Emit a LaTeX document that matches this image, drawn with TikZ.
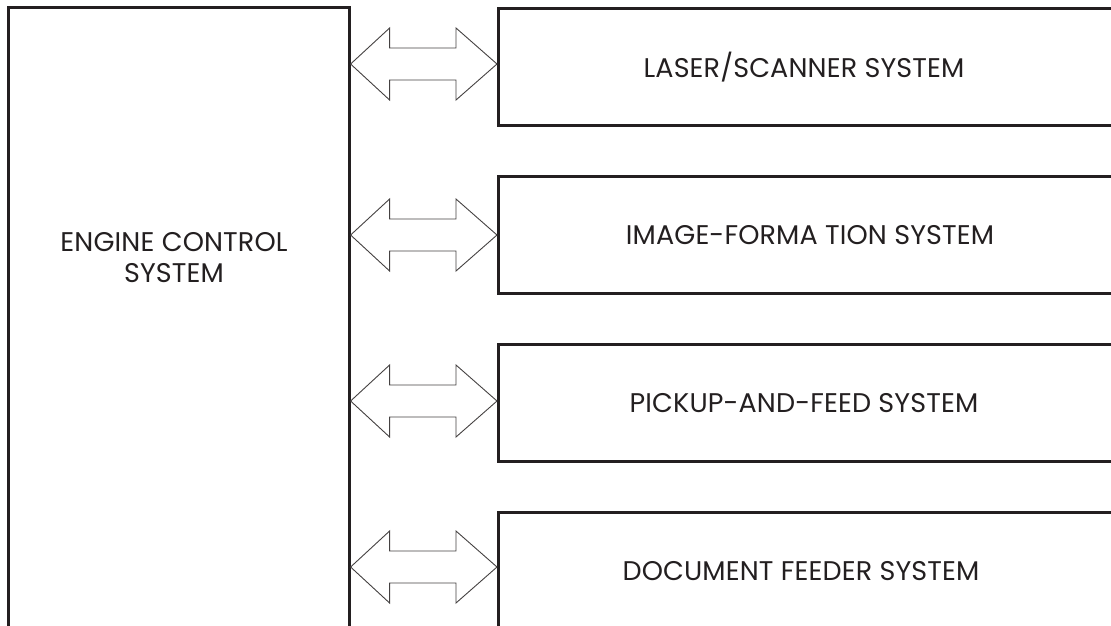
\documentclass[tikz,border=0pt]{standalone}
\usepackage{fontspec}
\setmainfont{Poppins}[LetterSpace=0.5]
\usetikzlibrary{calc}
\definecolor{ink}{HTML}{231F20}
\tikzset{
  sysbox/.style={draw=ink, line width=2.6pt, rectangle, inner sep=0pt},
  biarrow/.style={draw=ink!85, line width=0.9pt, line join=miter},
  lbl/.style={text=ink, font=\fontsize{27}{31}\selectfont, anchor=base, inner sep=0pt}
}
\begin{document}
\begin{tikzpicture}[x=1pt,y=-1pt]
\useasboundingbox (0,0) rectangle (1111,625);
\clip (0,0) rectangle (1111,625);
% engine control box (open past the bottom edge)
\node[sysbox, minimum width=341pt, minimum height=650pt, anchor=north west] (eng) at (7,6) {};
\node[lbl] (engt1) at (174,251) {ENGINE CONTROL};
\node[lbl] (engt2) at (174,282) {SYSTEM};
% subsystem boxes (open past the right edge)
\foreach \n/\t in {1/7,2/175,3/343,4/511}{
  \node[sysbox, minimum width=640pt, minimum height=117pt, anchor=north west] (b\n) at (497,\t) {};
}
\node[lbl] (t1) at (804,77) {LASER/SCANNER SYSTEM};
\node[lbl] (t2) at (810,244) {IMAGE-FORMA TION SYSTEM};
\node[lbl] (t3) at (804,412) {PICKUP-AND-FEED SYSTEM};
\node[lbl] (t4) at (801,580) {DOCUMENT FEEDER SYSTEM};
% double arrows
\foreach \n/\c in {1/64,2/235,3/401,4/567}{
  \coordinate (L\n) at (eng.east |- 0,\c);
  \coordinate (R\n) at (b\n.west |- 0,\c);
  \draw[biarrow] (L\n) -- ($(L\n)+(39,-36)$) -- ($(L\n)+(39,-16)$) -- ($(R\n)+(-41,-16)$) -- ($(R\n)+(-41,-36)$) -- (R\n)
    -- ($(R\n)+(-41,36)$) -- ($(R\n)+(-41,16)$) -- ($(L\n)+(39,16)$) -- ($(L\n)+(39,36)$) -- cycle;
}
\end{tikzpicture}
\end{document}
